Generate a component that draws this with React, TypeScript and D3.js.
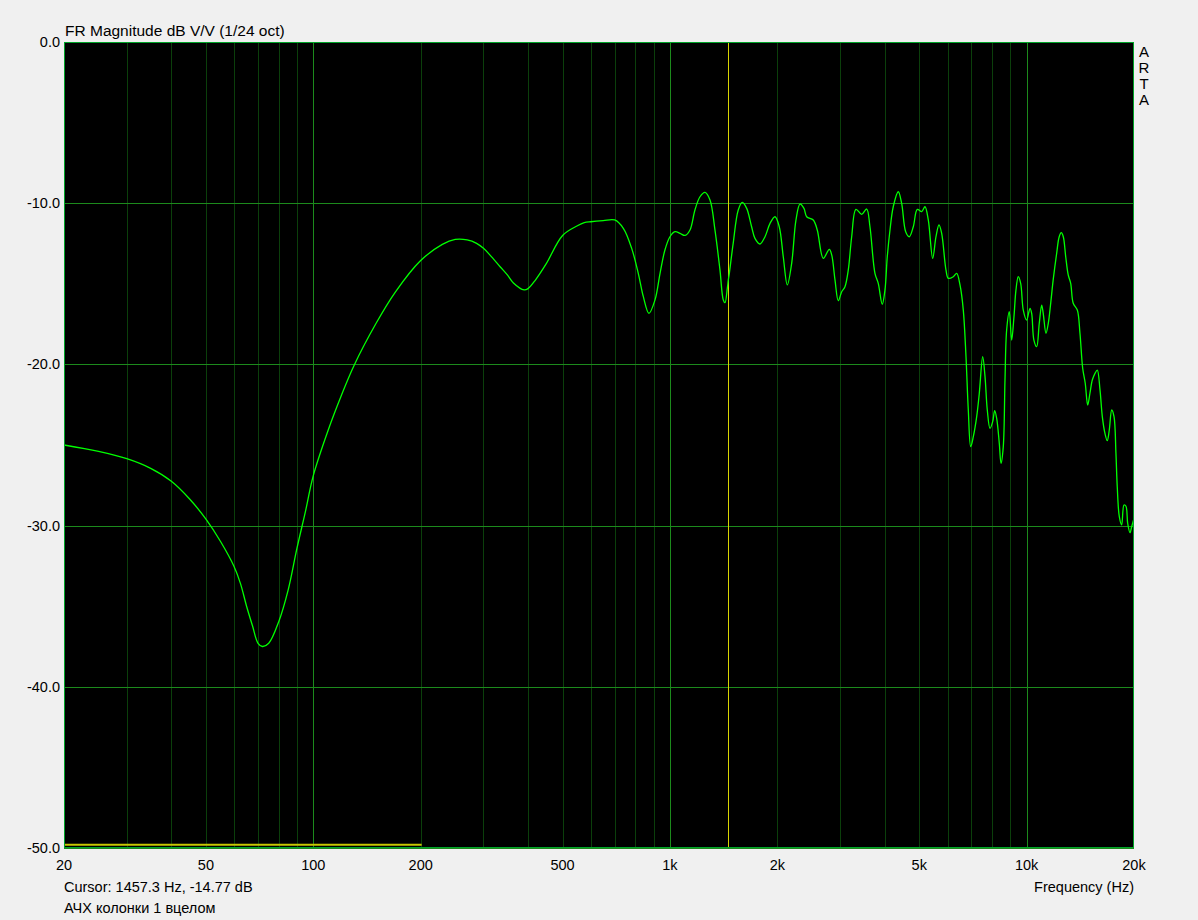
import React from "react";
import * as d3 from "d3";

// ---- Data ----
const freqHz: number[] = [
  20, 25, 30, 35, 40, 45, 50, 55, 60, 62.5, 65, 67.5, 70, 72, 75, 80, 85, 90, 95, 100,
  110, 120, 130, 150, 170, 200, 230, 250, 270, 287, 300, 313, 334, 350, 364, 390, 400, 420, 450,
  500, 550, 575, 600, 650, 700, 740, 781, 815, 842, 873, 908, 938, 968, 1000, 1033, 1067,
  1102, 1138, 1175, 1214, 1254, 1295, 1337, 1381, 1411, 1427, 1448, 1457.3, 1466, 1504,
  1554, 1595, 1641, 1694, 1731, 1788, 1847, 1908, 1970, 2025, 2078, 2133, 2194, 2256,
  2315, 2375, 2417, 2522, 2588, 2691, 2797, 2841, 2902, 2964, 3030, 3095, 3162, 3232,
  3323, 3447, 3560, 3637, 3756, 3837, 3937, 4007, 4067, 4139, 4227, 4366, 4463, 4580,
  4688, 4811, 4937, 5079, 5188, 5300, 5452, 5570, 5679, 5778, 5941, 6030, 6228, 6366,
  6504, 6644, 6761, 6862, 6970, 7088, 7244, 7367, 7530, 7644, 7757, 7894, 8032, 8137,
  8242, 8382, 8475, 8601, 8696, 8790, 8941, 9078, 9215, 9335, 9474, 9623, 9786, 10000,
  10220, 10330, 10480, 10670, 10850, 11020, 11130, 11330, 11500, 11680, 11870, 12140,
  12340, 12510, 12670, 12870, 13080, 13290, 13510, 13870, 14110, 14360, 14600, 14830,
  15050, 15280, 15550, 15780, 16060, 16300, 16580, 16830, 17050, 17320, 17580, 17800,
  17950, 18190, 18470, 18750, 18990, 19200, 19490, 19700, 20000,
];

const magDb: number[] = [
  -25.0, -25.4, -25.85, -26.45, -27.25, -28.35, -29.6, -31.0, -32.55, -33.6, -35.0, -36.2, -37.3, -37.5, -37.3, -35.96, -34.0, -31.4, -29.15, -26.9,
  -24.1, -21.9, -20.08, -17.45, -15.5, -13.56, -12.55, -12.25, -12.28, -12.49, -12.8, -13.22, -13.94, -14.45, -14.95, -15.38, -15.3, -14.75, -13.75,
  -12.0, -11.4, -11.21, -11.15, -11.08, -11.04, -11.56, -12.8, -14.35, -15.8, -16.83, -16.0, -14.35, -12.9, -12.08, -11.77, -11.87,
  -12.0, -11.66, -10.42, -9.6, -9.33, -9.8, -11.66, -14.14, -16.0, -16.17, -15.28, -14.77, -14.4, -12.49,
  -10.42, -9.95, -10.32, -11.46, -12.18, -12.53, -12.08, -11.25, -10.84, -11.46, -13.32, -15.07, -13.73, -11.04,
  -10.05, -10.32, -10.84, -11.04, -11.66, -13.42, -12.86, -13.21, -14.76, -16.05, -15.49, -15.18, -14.14, -12.08,
  -10.38, -10.69, -10.36, -11.46, -14.35, -14.97, -16.27, -15.38, -13.32, -11.66, -10.22, -9.29, -10.01, -11.77,
  -12.08, -11.46, -10.38, -10.52, -10.22, -11.04, -13.42, -12.08, -11.35, -11.87, -14.14, -14.66, -14.56, -14.35,
  -15.07, -16.63, -19.52, -22.83, -25.1, -24.48, -23.24, -21.79, -19.52, -20.76, -22.83, -23.97, -23.55, -22.87,
  -23.35, -24.9, -26.14, -25.1, -20.97, -17.87, -16.73, -18.49, -17.04, -15.38, -14.56, -14.97, -16.63, -17.25,
  -16.52, -16.83, -18.49, -18.9, -17.45, -16.32, -16.83, -18.07, -17.45, -16.21, -14.76, -13.11,
  -12.08, -11.83, -12.08, -13.32, -14.45, -14.97, -16.21, -16.63, -18.07, -20.24, -21.17, -22.52,
  -21.79, -20.97, -20.56, -20.35, -21.59, -23.24, -24.28, -24.73, -24.07, -22.83, -23.24, -25.52,
  -27.59, -29.45, -29.96, -28.72, -28.8, -29.86, -30.44, -30.07, -29.55,
];

const yTicks: number[] = [0, -10, -20, -30, -40, -50];
const xTickValues: number[] = [20, 50, 100, 200, 500, 1000, 2000, 5000, 10000, 20000];
const xTickLabels: string[] = ["20", "50", "100", "200", "500", "1k", "2k", "5k", "10k", "20k"];
const minorGridHz: number[] = [
  30, 40, 50, 60, 70, 80, 90,
  200, 300, 400, 500, 600, 700, 800, 900,
  2000, 3000, 4000, 5000, 6000, 7000, 8000, 9000,
];
const majorGridHz: number[] = [100, 1000, 10000];
const cursorHz = 1457.3;
const cursorText = "Cursor: 1457.3 Hz, -14.77 dB";
const generatorRange: number[] = [20, 200];
const generatorDb = -49.8;
const titleText = "FR Magnitude dB V/V (1/24 oct)";
const xAxisTitle = "Frequency (Hz)";
const curveName = "АЧХ колонки 1 вцелом";
const brandLetters: string[] = ["A", "R", "T", "A"];

const W = 1198;
const H = 920;
const plot = { left: 64, right: 1134, top: 42, bottom: 848 };

export default function App() {
  const x = d3.scaleLog().domain([20, 20000]).range([plot.left, plot.right]);
  const y = d3.scaleLinear().domain([-50, 0]).range([plot.bottom, plot.top]);
  const px = (v: number) => Math.round(x(v)) + 0.5;
  const py = (v: number) => Math.round(y(v)) + 0.5;

  const pts: [number, number][] = freqHz.map((f, i) => [f, magDb[i]]);
  const line = d3
    .line<[number, number]>()
    .x((d) => x(d[0]))
    .y((d) => y(d[1]))
    .curve(d3.curveCatmullRom.alpha(0.5));

  const font = "'Liberation Sans', Arial, sans-serif";

  return (
    <svg
      width={W}
      height={H}
      style={{ position: "absolute", left: 0, top: 0, background: "#f0f0f0" }}
      fontFamily={font}
    >
      <rect x={0} y={0} width={W} height={H} fill="#f0f0f0" />
      <rect
        x={plot.left}
        y={plot.top}
        width={plot.right - plot.left}
        height={plot.bottom - plot.top}
        fill="#000000"
      />
      <defs>
        <clipPath id="plotclip">
          <rect x={plot.left} y={plot.top} width={plot.right - plot.left} height={plot.bottom - plot.top} />
        </clipPath>
      </defs>
      {minorGridHz.map((f) => (
        <line key={"mn" + f} x1={px(f)} x2={px(f)} y1={plot.top} y2={plot.bottom} stroke="#0b3f0b" strokeWidth={1} />
      ))}
      {majorGridHz.map((f) => (
        <line key={"mj" + f} x1={px(f)} x2={px(f)} y1={plot.top} y2={plot.bottom} stroke="#1c8a1c" strokeWidth={1} />
      ))}
      {yTicks.map((v) => (
        <line key={"h" + v} x1={plot.left} x2={plot.right} y1={py(v)} y2={py(v)} stroke="#1c8a1c" strokeWidth={1} />
      ))}
      <line
        x1={x(generatorRange[0])}
        x2={x(generatorRange[1]) + 1}
        y1={y(generatorDb)}
        y2={y(generatorDb)}
        stroke="#c8c800"
        strokeWidth={2}
      />
      <line x1={px(cursorHz)} x2={px(cursorHz)} y1={plot.top} y2={plot.bottom} stroke="#d8d400" strokeWidth={1} />
      <path d={line(pts) || ""} fill="none" stroke="#00ff00" strokeWidth={1.3} clipPath="url(#plotclip)" />
      <rect
        x={plot.left + 0.5}
        y={plot.top + 0.5}
        width={plot.right - plot.left - 1}
        height={plot.bottom - plot.top - 1}
        fill="none"
        stroke="#00a428"
        strokeWidth={1}
      />
      <text x={plot.left + 1} y={36} fontSize={15.5} fill="#000">
        {titleText}
      </text>
      {yTicks.map((v) => (
        <text key={"yl" + v} x={60} y={y(v) + 5} fontSize={14.5} textAnchor="end" fill="#000">
          {v.toFixed(1)}
        </text>
      ))}
      {xTickValues.map((f, i) => (
        <text key={"xl" + f} x={x(f)} y={870} fontSize={14.5} textAnchor="middle" fill="#000">
          {xTickLabels[i]}
        </text>
      ))}
      <text x={plot.right} y={892} fontSize={14.5} textAnchor="end" fill="#000">
        {xAxisTitle}
      </text>
      <text x={plot.left} y={892} fontSize={14.5} fill="#000">
        {cursorText}
      </text>
      <text x={plot.left} y={913} fontSize={14.5} fill="#000">
        {curveName}
      </text>
      {brandLetters.map((c, i) => (
        <text key={"b" + i} x={1144} y={56.5 + i * 16.2} fontSize={15} textAnchor="middle" fill="#000">
          {c}
        </text>
      ))}
    </svg>
  );
}
